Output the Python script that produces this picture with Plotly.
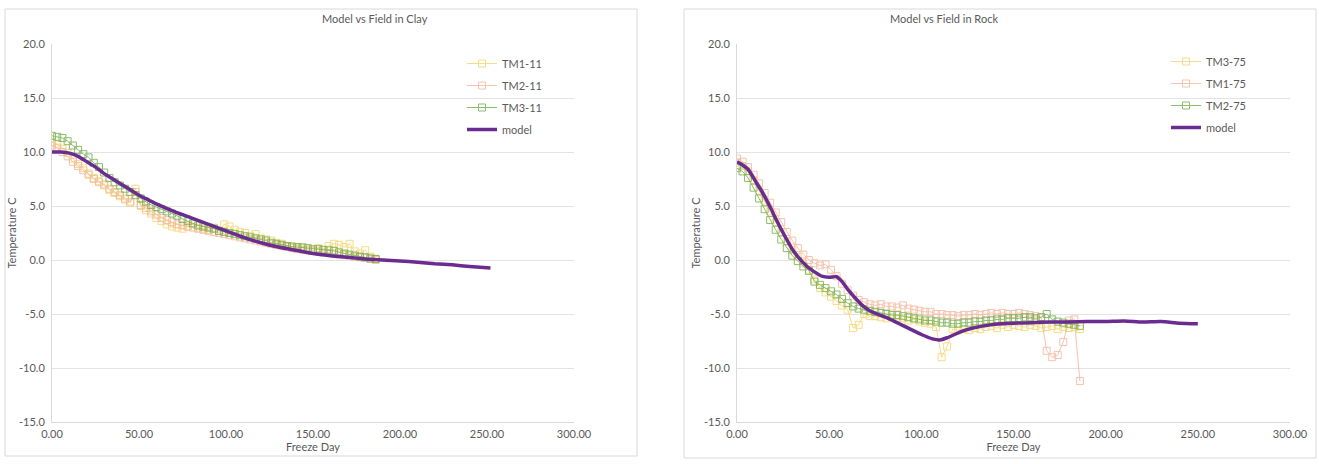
import plotly.graph_objects as go

# ---------------- data ----------------
field_days = [0, 3, 6, 9, 12, 15, 18, 21, 24, 27, 30, 33, 36, 39, 42, 45, 48, 51, 54, 57,
              60, 63, 66, 69, 72, 75, 78, 81, 84, 87, 90, 93, 96, 99, 102, 105, 108, 111,
              114, 117, 120, 123, 126, 129, 132, 135, 138, 141, 144, 147, 150, 153, 156,
              159, 162, 165, 168, 171, 174, 177, 180, 183, 186]

# Clay
tm1_11 = [10.9, 10.7, 10.3, 9.9, 9.4, 8.9, 8.5, 8.0, 7.6, 7.3, 6.9, 6.5, 6.2, 5.9, 5.6, 5.3,
          6.6, 5.0, 4.6, 4.3, 3.9, 3.6, 3.3, 3.1, 3.0, 2.9, 3.1, 3.3, 3.0, 2.9, 2.8, 3.0,
          2.7, 3.3, 3.1, 2.8, 2.6, 2.5, 2.2, 2.4, 2.0, 1.9, 1.8, 1.6, 1.5, 1.3, 1.2, 1.1,
          1.2, 1.0, 0.9, 1.1, 0.9, 1.3, 1.5, 1.4, 1.2, 1.5, 0.8, 0.6, 0.9, 0.3, 0.0]
tm2_11 = [10.6, 10.4, 10.0, 9.6, 9.1, 8.7, 8.3, 7.9, 7.5, 7.2, 7.0, 6.6, 6.3, 6.0, 5.7, 5.4,
          6.3, 5.1, 4.8, 4.5, 4.2, 3.9, 3.7, 3.5, 3.3, 3.2, 3.1, 3.0, 2.9, 2.8, 2.7, 2.6,
          2.5, 2.4, 2.3, 2.2, 2.1, 2.0, 1.9, 1.8, 1.7, 1.6, 1.5, 1.4, 1.3, 1.2, 1.1, 1.0,
          0.95, 0.9, 0.85, 0.8, 0.7, 0.65, 0.6, 0.5, 0.45, 0.4, 0.3, 0.25, 0.2, 0.1, 0.05]
tm3_11 = [11.5, 11.4, 11.3, 11.0, 10.6, 10.2, 9.8, 9.5, 9.0, 8.6, 8.1, 7.6, 7.2, 6.9, 6.6,
          6.3, 6.0, 5.7, 5.4, 5.1, 4.9, 4.7, 4.5, 4.3, 4.1, 3.8, 3.6, 3.4, 3.2, 3.1, 3.0,
          2.9, 2.7, 2.6, 2.5, 2.4, 2.3, 2.2, 2.1, 2.0, 1.9, 1.8, 1.6, 1.5, 1.4, 1.3, 1.25,
          1.2, 1.15, 1.1, 1.0, 1.0, 0.95, 0.9, 0.85, 0.7, 0.6, 0.5, 0.4, 0.3, 0.25, 0.15, 0.1]

clay_model_days = [0, 5, 10, 15, 20, 25, 30, 35, 40, 45, 50, 55, 60, 70, 80, 90, 100, 110,
                   120, 130, 140, 150, 160, 170, 180, 190, 200, 210, 220, 230, 240, 252]
clay_model = [10.0, 10.0, 9.9, 9.6, 9.1, 8.6, 8.0, 7.5, 7.0, 6.5, 6.0, 5.6, 5.2, 4.5, 3.9,
              3.3, 2.7, 2.1, 1.6, 1.2, 0.9, 0.6, 0.4, 0.25, 0.1, 0.0, -0.1, -0.2, -0.35,
              -0.45, -0.6, -0.75]

# Rock
tm3_75 = [9.0, 8.7, 8.2, 7.4, 6.4, 5.5, 4.5, 3.5, 2.6, 1.7, 0.9, 0.3, -0.3, -0.9, -1.8,
          -2.6, -3.0, -3.4, -3.8, -4.2, -4.6, -6.3, -6.0, -5.0, -5.2, -5.2, -5.3, -5.4,
          -5.3, -5.5, -5.4, -5.6, -5.5, -5.7, -5.8, -5.9, -6.2, -9.0, -8.0, -6.4, -6.5,
          -6.4, -6.5, -6.3, -6.4, -6.2, -6.1, -6.3, -6.0, -6.2, -6.0, -6.1, -6.2, -6.0,
          -6.1, -6.3, -6.2, -6.1, -6.4, -6.2, -6.3, -6.2, -6.4]
tm1_75 = [9.4, 9.1, 8.6, 7.9, 7.1, 6.2, 5.3, 4.4, 3.5, 2.6, 1.8, 1.1, 0.5, 0.0, -0.3, -0.5,
          -0.4, -0.9, -1.5, -2.2, -2.8, -3.3, -3.7, -3.9, -4.1, -4.2, -4.1, -4.3, -4.3,
          -4.4, -4.2, -4.5, -4.6, -4.7, -4.8, -4.8, -5.0, -5.0, -5.1, -5.1, -5.2, -5.1,
          -5.1, -5.0, -5.1, -5.0, -4.9, -5.0, -4.9, -5.0, -5.0, -4.9, -5.0, -5.1, -5.2,
          -5.3, -8.4, -9.0, -8.8, -7.6, -5.6, -5.5, -11.2]
tm2_75 = [8.5, 8.2, 7.6, 6.7, 5.7, 4.7, 3.7, 2.8, 1.9, 1.1, 0.4, -0.1, -0.6, -1.0, -2.0,
          -2.3, -2.6, -2.9, -3.2, -3.6, -4.0, -4.3, -4.5, -4.6, -4.7, -4.8, -4.9, -5.0,
          -5.1, -5.1, -5.2, -5.3, -5.4, -5.5, -5.6, -5.6, -5.7, -5.8, -5.8, -5.9, -5.9,
          -5.8, -5.8, -5.7, -5.7, -5.6, -5.6, -5.5, -5.5, -5.4, -5.4, -5.4, -5.3, -5.3,
          -5.4, -5.3, -5.0, -5.5, -5.7, -5.8, -5.9, -6.0, -6.1]

rock_model_days = [0, 3, 6, 10, 14, 18, 22, 26, 30, 34, 38, 42, 46, 50, 54, 57, 60, 64, 68,
                   72, 76, 82, 88, 94, 100, 106, 110, 114, 118, 122, 128, 134, 140, 150,
                   160, 170, 180, 190, 200, 210, 220, 230, 240, 250]
rock_model = [9.1, 8.8, 8.4, 7.3, 6.2, 4.9, 3.5, 2.2, 1.0, 0.1, -0.6, -1.1, -1.5, -1.6,
              -1.55, -2.0, -2.7, -3.5, -4.2, -4.7, -5.0, -5.4, -5.9, -6.4, -6.9, -7.3,
              -7.4, -7.2, -6.9, -6.6, -6.3, -6.1, -5.95, -5.85, -5.8, -5.75, -5.75, -5.7,
              -5.7, -5.65, -5.75, -5.7, -5.85, -5.9]

y_ticks = [-15, -10, -5, 0, 5, 10, 15, 20]
y_labels = ["-15.0", "-10.0", "-5.0", "0.0", "5.0", "10.0", "15.0", "20.0"]
x_ticks = [0, 50, 100, 150, 200, 250, 300]
x_labels = ["0.00", "50.00", "100.00", "150.00", "200.00", "250.00", "300.00"]

# ---------------- styles ----------------
YELLOW = "#F5D46A"
ORANGE = "#F4B69A"
GREEN = "#70AD47"
PURPLE = "#6A2C91"
FONT = "Lato"
TXT = "#595959"

W, H = 1319, 464

fig = go.Figure()


def field(x, y, name, color, xa, ya, leg):
    return go.Scatter(
        x=x, y=y, name=name, mode="lines+markers", xaxis=xa, yaxis=ya, legend=leg,
        legendgroup=name + xa,
        line=dict(color=color, width=1),
        marker=dict(symbol="square-open", size=7, color=color, line=dict(width=1)),
        opacity=0.8,
    )


def model(x, y, xa, ya, leg):
    return go.Scatter(
        x=x, y=y, name="model", mode="lines", xaxis=xa, yaxis=ya, legend=leg,
        legendgroup="model" + xa,
        line=dict(color=PURPLE, width=3.5, shape="spline", smoothing=0.6),
    )


fig.add_trace(field(field_days, tm1_11, "TM1-11", YELLOW, "x", "y", "legend"))
fig.add_trace(field(field_days, tm2_11, "TM2-11", ORANGE, "x", "y", "legend"))
fig.add_trace(field(field_days, tm3_11, "TM3-11", GREEN, "x", "y", "legend"))
fig.add_trace(model(clay_model_days, clay_model, "x", "y", "legend"))

fig.add_trace(field(field_days, tm3_75, "TM3-75", YELLOW, "x2", "y2", "legend2"))
fig.add_trace(field(field_days, tm1_75, "TM1-75", ORANGE, "x2", "y2", "legend2"))
fig.add_trace(field(field_days, tm2_75, "TM2-75", GREEN, "x2", "y2", "legend2"))
fig.add_trace(model(rock_model_days, rock_model, "x2", "y2", "legend2"))


def px_x(p):
    return p / W


def px_y(p):
    return 1 - p / H


axis_common = dict(
    showline=True, linecolor="#d9d9d9", linewidth=1, ticks="", zeroline=False,
    automargin=False,
    tickfont=dict(family=FONT, size=11, color=TXT),
)

x_dom_l = [px_x(52), px_x(574)]
x_dom_r = [px_x(737), px_x(1290)]
y_dom = [px_y(422), px_y(44)]

ttl_font = dict(family=FONT, size=11, color=TXT)

fig.update_layout(
    width=W, height=H,
    margin=dict(l=0, r=0, t=0, b=0, autoexpand=False),
    paper_bgcolor="white", plot_bgcolor="white",
    showlegend=True,
    xaxis=dict(domain=x_dom_l, range=[0, 300], tickvals=x_ticks, ticktext=x_labels,
               showgrid=False, anchor="y", ticklabelstandoff=2,
               title=dict(text="Freeze Day", font=ttl_font, standoff=4),
               **axis_common),
    yaxis=dict(domain=y_dom, range=[-15, 20], tickvals=y_ticks, ticktext=y_labels,
               showgrid=True, gridcolor="#e3e3e3", anchor="x", ticklabelstandoff=4,
               title=dict(text="Temperature C", font=ttl_font, standoff=0),
               **axis_common),
    xaxis2=dict(domain=x_dom_r, range=[0, 300], tickvals=x_ticks, ticktext=x_labels,
                showgrid=False, anchor="y2", ticklabelstandoff=2,
                title=dict(text="Freeze Day", font=ttl_font, standoff=4),
                **axis_common),
    yaxis2=dict(domain=y_dom, range=[-15, 20], tickvals=y_ticks, ticktext=y_labels,
                showgrid=True, gridcolor="#e3e3e3", anchor="x2", ticklabelstandoff=4,
                title=dict(text="Temperature C", font=ttl_font, standoff=1),
                **axis_common),
    legend=dict(x=px_x(462), y=px_y(49), xanchor="left", yanchor="top",
                bgcolor="rgba(0,0,0,0)", font=dict(family=FONT, size=11, color=TXT),
                itemwidth=30, tracegroupgap=3),
    legend2=dict(x=px_x(1166), y=px_y(47), xanchor="left", yanchor="top",
                 bgcolor="rgba(0,0,0,0)", font=dict(family=FONT, size=11, color=TXT),
                 itemwidth=30, tracegroupgap=3),
    annotations=[
        dict(text="Model vs Field in Clay", x=px_x(320), y=px_y(18), xref="paper", yref="paper",
             yanchor="middle", showarrow=False, font=ttl_font),
        dict(text="Model vs Field in Rock", x=px_x(1000), y=px_y(18), xref="paper", yref="paper",
             yanchor="middle", showarrow=False, font=ttl_font),
    ],
    shapes=[
        dict(type="rect", xref="paper", yref="paper", x0=px_x(5), x1=px_x(637),
             y0=px_y(456), y1=px_y(9), line=dict(color="#d9d9d9", width=1)),
        dict(type="rect", xref="paper", yref="paper", x0=px_x(684), x1=px_x(1316),
             y0=px_y(458), y1=px_y(9), line=dict(color="#d9d9d9", width=1)),
    ],
)

fig.write_html("out.html")
